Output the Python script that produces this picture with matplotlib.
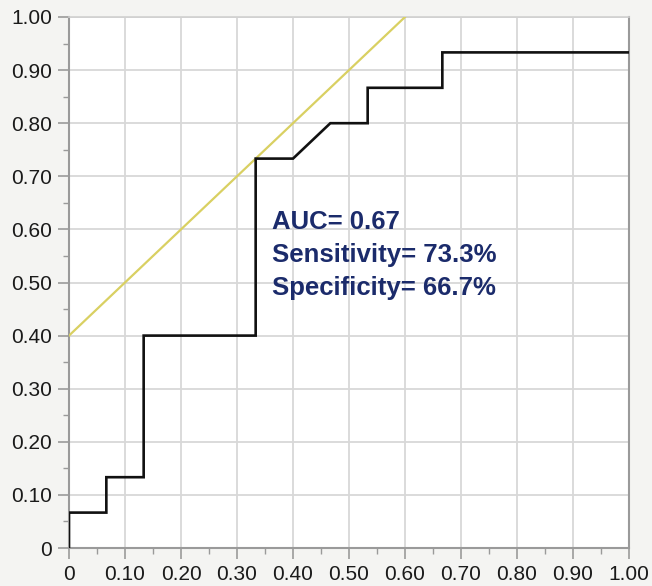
import matplotlib
matplotlib.use("Agg")
import matplotlib.pyplot as plt
import numpy as np

# ROC step curve (1 - specificity, sensitivity)
fpr = [0, 0, 1/15, 1/15, 2/15, 2/15, 5/15, 5/15, 6/15, 7/15, 8/15, 8/15, 10/15, 10/15, 1.0]
tpr = [0, 1/15, 1/15, 2/15, 2/15, 6/15, 6/15, 11/15, 11/15, 12/15, 12/15, 13/15, 13/15, 14/15, 14/15]
# yellow tangent line
line_x = [0.0, 0.6]
line_y = [0.4, 1.0]
ticks = [0, 0.1, 0.2, 0.3, 0.4, 0.5, 0.6, 0.7, 0.8, 0.9, 1.0]
tick_labels = ["0", "0.10", "0.20", "0.30", "0.40", "0.50", "0.60", "0.70", "0.80", "0.90", "1.00"]
stats_text = ["AUC= 0.67", "Sensitivity= 73.3%", "Specificity= 66.7%"]

plt.rcParams['font.family'] = ['Liberation Sans', 'DejaVu Sans']

fig = plt.figure(figsize=(6.52, 5.86), dpi=100, facecolor='#f4f4f2')
ax = fig.add_axes([69/652, 38/586, 560/652, 531/586])
ax.set_facecolor('white')

ax.plot(line_x, line_y, color='#d9d062', lw=1.6, zorder=3)
ax.plot(fpr, tpr, color='#111111', lw=1.9, zorder=4, solid_joinstyle='miter')

ax.set_xlim(0, 1)
ax.set_ylim(0, 1)
ax.set_xticks(ticks)
ax.set_xticklabels(tick_labels)
ax.set_yticks(ticks)
ax.set_yticklabels(tick_labels)
ax.set_xticks(np.arange(0.05, 1.0, 0.1), minor=True)
ax.set_yticks(np.arange(0.05, 1.0, 0.1), minor=True)
ax.grid(True, which='major', color='#d8d8d8', lw=1.3, zorder=0)
ax.set_axisbelow(True)
ax.tick_params(which='major', length=8, width=1.2, color='#9a9a9a', labelsize=15,
               labelcolor='#1a1a1a', pad=4, direction='out')
ax.tick_params(which='minor', length=4, width=1.0, color='#9a9a9a', direction='out')
for s in ['left', 'bottom', 'right']:
    ax.spines[s].set_color('#9a9a9a')
    ax.spines[s].set_linewidth(1.5)
ax.spines['top'].set_color('#d0d0d0')
ax.spines['top'].set_linewidth(1.2)

for i, t in enumerate(stats_text):
    ax.text(0.363, 0.614 - i * 0.062, t, color='#1b2b6b', fontsize=18.5, fontweight='bold',
            va='center', ha='left', zorder=5)

fig.savefig('out.png', dpi=100, facecolor=fig.get_facecolor())
